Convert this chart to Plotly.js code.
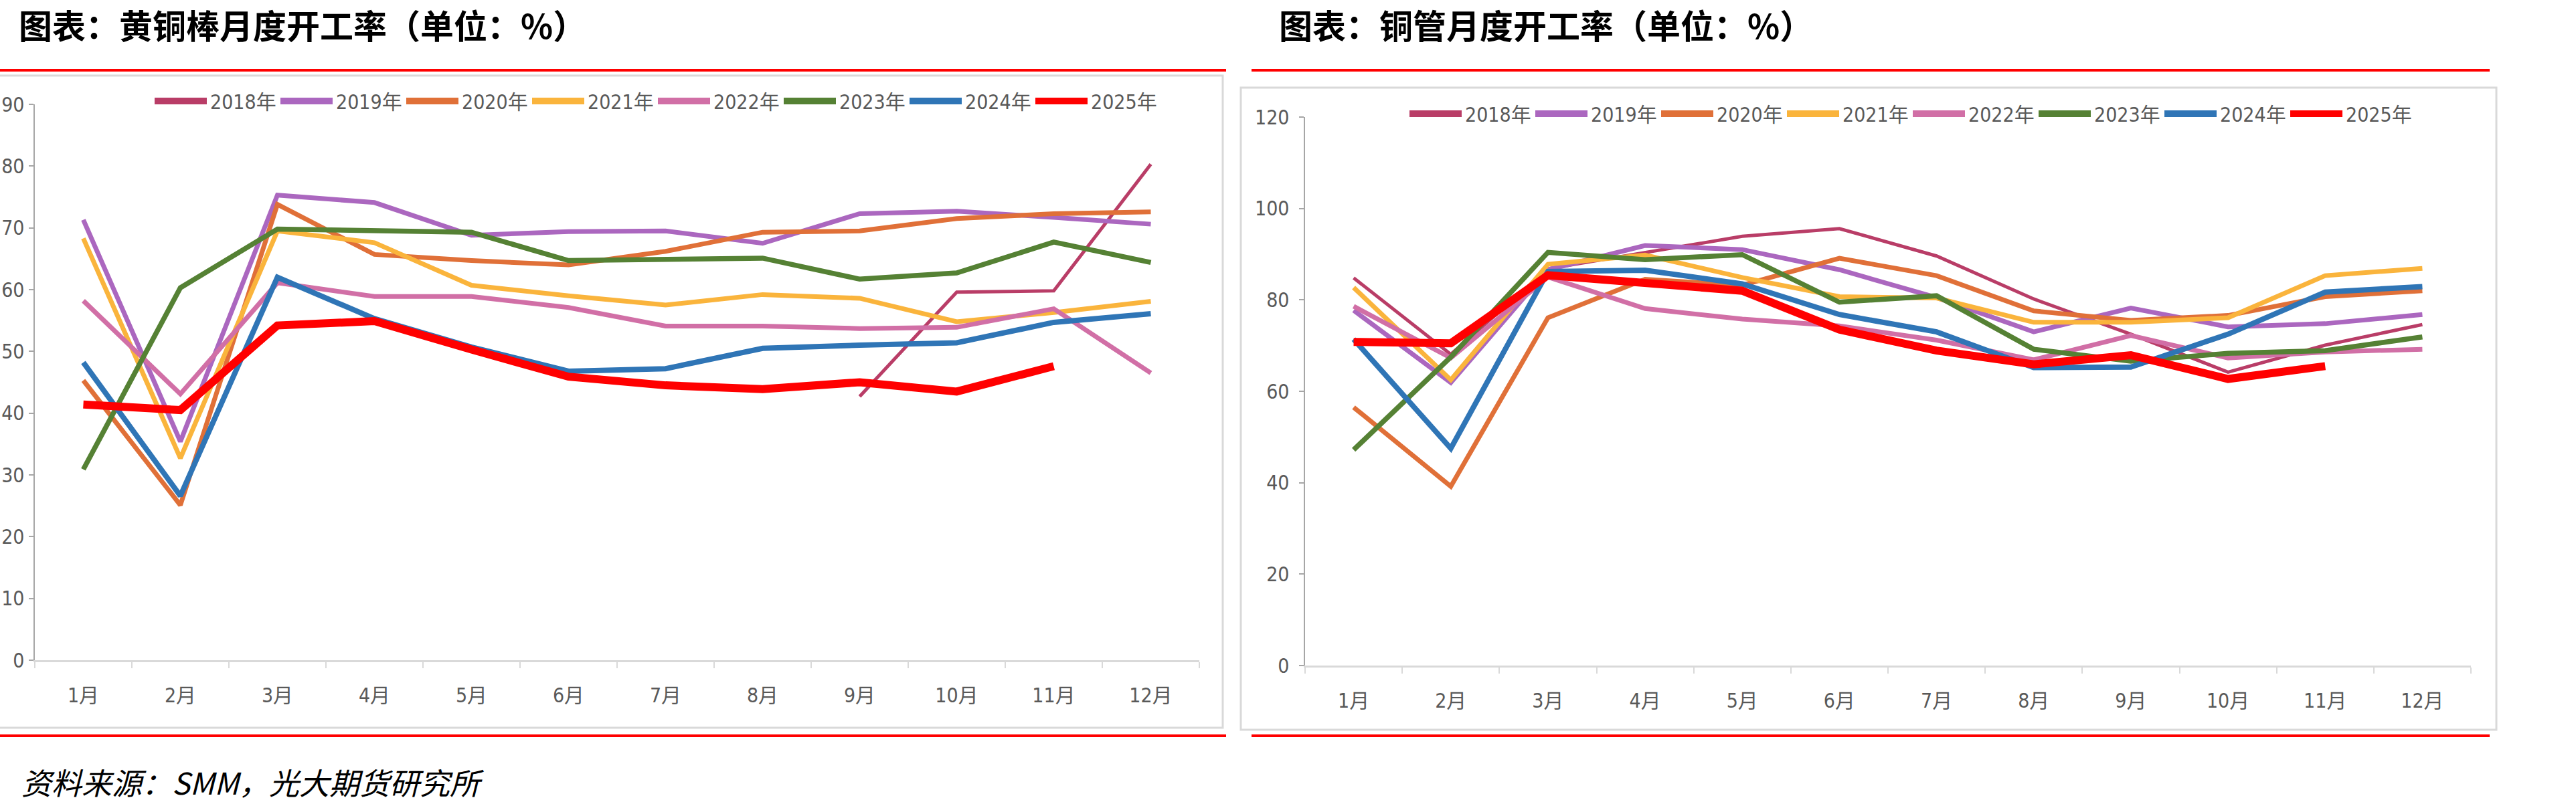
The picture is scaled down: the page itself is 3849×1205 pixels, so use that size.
<!DOCTYPE html>
<html>
<head>
<meta charset="utf-8">
<script src="https://cdn.plot.ly/plotly-3.0.1.min.js"></script>
<style>
  html, body { margin: 0; padding: 0; background: #ffffff; }
  #chart { width: 3849px; height: 1205px; }
</style>
</head>
<body>
<div id="chart"></div>
<script>
// ---------- data ----------
const months = ['1月','2月','3月','4月','5月','6月','7月','8月','9月','10月','11月','12月'];
const years = ['2018年','2019年','2020年','2021年','2022年','2023年','2024年','2025年'];

// 黄铜棒月度开工率 (brass rod)
const rod2018 = [null, null, null, null, null, null, null, null, 42.7, 59.6, 59.8, 80.3];
const rod2019 = [71.3, 35.4, 75.3, 74.1, 68.8, 69.4, 69.5, 67.5, 72.3, 72.7, 71.7, 70.6];
const rod2020 = [45.3, 25.1, 73.8, 65.7, 64.7, 64.0, 66.2, 69.3, 69.5, 71.5, 72.3, 72.6];
const rod2021 = [68.3, 32.7, 69.5, 67.6, 60.7, 59.0, 57.5, 59.2, 58.6, 54.8, 56.3, 58.1];
const rod2022 = [58.2, 43.1, 61.1, 58.9, 58.9, 57.1, 54.1, 54.1, 53.7, 53.9, 56.9, 46.5];
const rod2023 = [30.9, 60.3, 69.8, 69.6, 69.3, 64.7, 64.8, 65.1, 61.7, 62.7, 67.7, 64.4];
const rod2024 = [48.2, 26.6, 62.0, 55.3, 50.7, 46.8, 47.2, 50.5, 51.0, 51.4, 54.7, 56.1];
const rod2025 = [41.4, 40.5, 54.2, 54.9, 50.3, 45.9, 44.5, 43.9, 45.0, 43.5, 47.6, null];

// 铜管月度开工率 (copper tube)
const tube2018 = [84.8, 68.1, 86.8, 90.4, 93.9, 95.6, 89.6, 80.2, 72.5, 64.2, 70.1, 74.6];
const tube2019 = [77.7, 61.9, 86.6, 91.9, 91.0, 86.6, 80.5, 73.0, 78.2, 74.1, 74.8, 76.8];
const tube2020 = [56.5, 39.2, 76.1, 84.5, 83.2, 89.1, 85.3, 77.6, 75.5, 76.6, 80.7, 82.0];
const tube2021 = [82.7, 62.5, 87.8, 89.8, 84.9, 80.7, 80.4, 75.1, 75.1, 76.1, 85.3, 86.9];
const tube2022 = [78.6, 67.3, 85.0, 78.1, 75.8, 74.3, 71.2, 66.9, 72.2, 67.3, 68.6, 69.2];
const tube2023 = [47.2, 67.5, 90.4, 88.8, 89.9, 79.5, 80.9, 69.2, 66.6, 68.3, 68.9, 71.9];
const tube2024 = [71.4, 47.5, 86.2, 86.5, 83.5, 76.8, 73.0, 65.2, 65.3, 72.5, 81.7, 82.9];
const tube2025 = [70.8, 70.5, 85.4, 83.5, 82.0, 73.5, 68.9, 65.9, 67.9, 62.7, 65.5, null];

const rodSeries  = [rod2018, rod2019, rod2020, rod2021, rod2022, rod2023, rod2024, rod2025];
const tubeSeries = [tube2018, tube2019, tube2020, tube2021, tube2022, tube2023, tube2024, tube2025];

// ---------- styles ----------
const W = 3849, H = 1205;
const colors = ['#B93D67', '#AB67BF', '#E07038', '#FAB43C', '#D16FA6', '#558134', '#2F75B6', '#FF0000'];
const widths = [5, 7, 7, 7, 7, 7.5, 8, 12];
const legendWidths = [10, 10, 10, 10, 10, 10, 10, 14];
const FONT = '"Liberation Sans Narrow", "DejaVu Sans Condensed", "Noto Sans CJK SC", sans-serif';
const CJK = '"Noto Sans CJK SC", sans-serif';
const px = x => x / W;
const py = y => 1 - y / H;

const traces = [];
function addChart(series, xa, ya, lg) {
  series.forEach((vals, i) => {
    traces.push({
      type: 'scatter', mode: 'lines', x: months, y: vals, name: years[i],
      xaxis: xa, yaxis: ya, legend: lg, showlegend: false,
      line: { color: colors[i], width: widths[i] },
      connectgaps: false, hoverinfo: 'skip'
    });
  });
  // legend entries (thicker key lines, as in the original)
  series.forEach((vals, i) => {
    traces.push({
      type: 'scatter', mode: 'lines', x: [null], y: [null], name: years[i],
      xaxis: xa, yaxis: ya, legend: lg, showlegend: true,
      line: { color: colors[i], width: legendWidths[i] }, hoverinfo: 'skip'
    });
  });
}
addChart(rodSeries, 'x', 'y', 'legend');
addChart(tubeSeries, 'x2', 'y2', 'legend2');

const xBase = {
  type: 'category', tickson: 'boundaries', ticks: 'outside', ticklen: 9, tickwidth: 2,
  tickcolor: '#D9D9D9', showline: true, linecolor: '#D9D9D9', linewidth: 3,
  showgrid: false, zeroline: false, fixedrange: true, range: [-0.5, 11.5], autorange: false,
  tickfont: { family: FONT, size: 30, color: '#595959' }, ticklabelstandoff: 24
};
const yBase = {
  ticks: 'outside', ticklen: 7, tickwidth: 2, tickcolor: '#A6A6A6',
  showline: true, linecolor: '#A6A6A6', linewidth: 2.5,
  showgrid: false, zeroline: false, fixedrange: true,
  tickfont: { family: FONT, size: 30, color: '#595959' }
};

const legendBase = {
  orientation: 'h', xanchor: 'left', yanchor: 'middle',
  font: { family: FONT, size: 30, color: '#595959' },
  itemwidth: 78, entrywidth: 95, bgcolor: 'rgba(0,0,0,0)', borderwidth: 0,
  traceorder: 'normal', itemclick: false, itemdoubleclick: false
};

const layout = {
  width: W, height: H,
  margin: { l: 0, r: 0, t: 0, b: 0 },
  paper_bgcolor: '#ffffff', plot_bgcolor: 'rgba(0,0,0,0)',
  showlegend: true,
  xaxis: Object.assign({}, xBase, { domain: [px(52), px(1792)], anchor: 'y' }),
  yaxis: Object.assign({}, yBase, { domain: [py(987), py(156)], anchor: 'x', range: [0, 90], dtick: 10, tick0: 0, ticklabelstandoff: 0 }),
  xaxis2: Object.assign({}, xBase, { domain: [px(1950), px(3692)], anchor: 'y2' }),
  yaxis2: Object.assign({}, yBase, { domain: [py(995), py(175)], anchor: 'x2', range: [0, 120], dtick: 20, tick0: 0, ticklabelstandoff: 8 }),
  legend: Object.assign({}, legendBase, { x: px(226), y: py(151) }),
  legend2: Object.assign({}, legendBase, { x: px(2101), y: py(170) }),
  shapes: [
    // frames
    { type: 'rect', xref: 'paper', yref: 'paper', x0: px(-6), x1: px(1827), y0: py(1088), y1: py(113),
      line: { color: '#D9D9D9', width: 3 }, fillcolor: 'rgba(0,0,0,0)', layer: 'below' },
    { type: 'rect', xref: 'paper', yref: 'paper', x0: px(1854), x1: px(3730), y0: py(1091), y1: py(131),
      line: { color: '#D9D9D9', width: 3 }, fillcolor: 'rgba(0,0,0,0)', layer: 'below' },
    // red rules
    { type: 'line', xref: 'paper', yref: 'paper', x0: px(0), x1: px(1832), y0: py(105), y1: py(105),
      line: { color: '#FF0000', width: 4 } },
    { type: 'line', xref: 'paper', yref: 'paper', x0: px(1870), x1: px(3720), y0: py(105), y1: py(105),
      line: { color: '#FF0000', width: 4 } },
    { type: 'line', xref: 'paper', yref: 'paper', x0: px(0), x1: px(1832), y0: py(1100), y1: py(1100),
      line: { color: '#FF0000', width: 4 } },
    { type: 'line', xref: 'paper', yref: 'paper', x0: px(1870), x1: px(3720), y0: py(1100), y1: py(1100),
      line: { color: '#FF0000', width: 4 } }
  ],
  annotations: [
    { text: '<b>图表：黄铜棒月度开工率（单位：%）</b>', xref: 'paper', yref: 'paper',
      x: px(26), y: py(36), xanchor: 'left', yanchor: 'middle', showarrow: false,
      font: { family: CJK, size: 50, color: '#000000' } },
    { text: '<b>图表：铜管月度开工率（单位：%）</b>', xref: 'paper', yref: 'paper',
      x: px(1909), y: py(36), xanchor: 'left', yanchor: 'middle', showarrow: false,
      font: { family: CJK, size: 50, color: '#000000' } },
    { text: '<i>资料来源：SMM，光大期货研究所</i>', xref: 'paper', yref: 'paper',
      x: px(30), y: py(1168), xanchor: 'left', yanchor: 'middle', showarrow: false,
      font: { family: CJK, size: 45, color: '#000000' } }
  ]
};

Plotly.newPlot('chart', traces, layout, { staticPlot: true, displayModeBar: false });
</script>
</body>
</html>
